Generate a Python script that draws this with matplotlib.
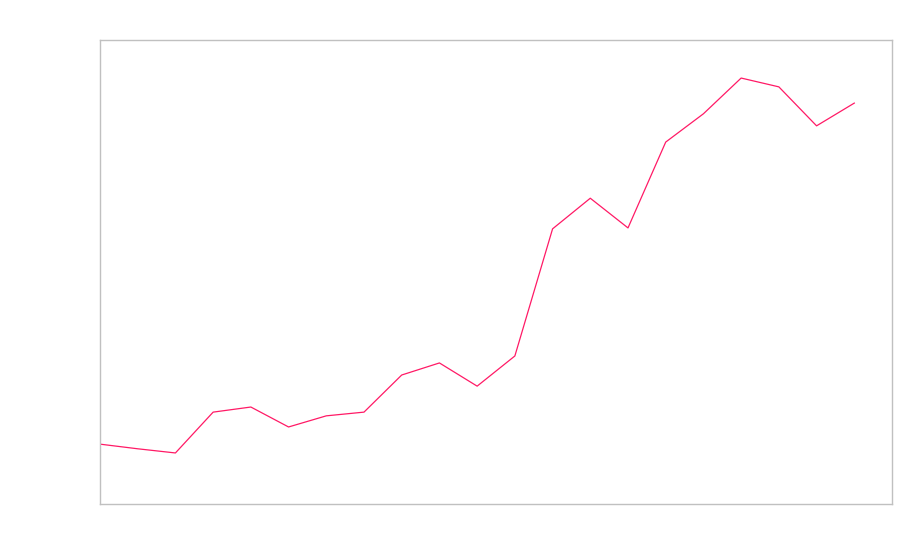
import matplotlib
matplotlib.use('Agg')
from matplotlib import pyplot as plt

x = list(range(21))
values = [12.9, 11.9, 11.0, 19.8, 20.9, 16.6, 19.0, 19.8, 27.8, 30.4, 25.4,
          31.9, 59.3, 65.9, 59.5, 78.0, 84.1, 91.8, 89.9, 81.5, 86.4]

fig = plt.figure(figsize=(9, 5.6), dpi=100)
ax = fig.add_axes([100 / 900, 56 / 560, 792 / 900, 464 / 560])
ax.plot(x, values, color='#ff1a66', linewidth=0.9)
ax.set_xlim(0, 21)
ax.set_ylim(0, 100)
ax.set_xticks([])
ax.set_yticks([])
for s in ax.spines.values():
    s.set_color('#c0c0c0')
    s.set_linewidth(1)

fig.savefig('out.png', dpi=100)
plt.close(fig)
